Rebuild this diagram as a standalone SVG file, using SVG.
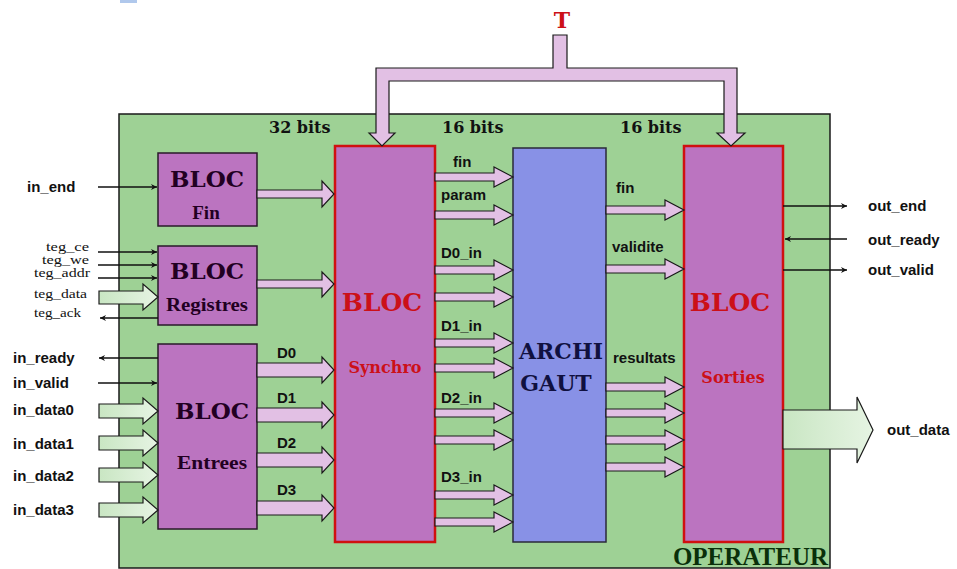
<svg xmlns="http://www.w3.org/2000/svg" width="957" height="569" viewBox="0 0 957 569">
<defs>
<style>
.bg{fill:#ffffff}
.op{fill:#9ed195;stroke:#1a1a1a;stroke-width:1.5}
.blk{fill:#bb74c0;stroke:#2a1a2a;stroke-width:1.5}
.rblk{fill:#bb74c0;stroke:#d01010;stroke-width:2.5}
.archi{fill:#8891e6;stroke:#2a2a3a;stroke-width:1.5}
.pa{fill:#e2c0e4;stroke:#1a1a1a;stroke-width:1.2;stroke-linejoin:miter}
.ga{fill:url(#lg);stroke:#1a1a1a;stroke-width:1.2}
.ln{stroke:#111;stroke-width:1.3;fill:none}
.ser{font-family:"DejaVu Serif","Liberation Serif",serif;font-weight:bold}
.ser2{font-family:"Liberation Serif","DejaVu Serif",serif;font-weight:bold}
.bt{fill:#220022;font-size:23px}
.bs{fill:#220022;font-size:19px}
.red{fill:#cc1018}
.san{font-family:"Liberation Sans",Arial,sans-serif;font-weight:bold;fill:#111;font-size:15px}
.teg{font-family:"Liberation Serif",serif;fill:#111;font-size:11.5px}
</style>
<linearGradient id="lg" x1="0" y1="0" x2="1" y2="0">
<stop offset="0" stop-color="#c9e6c3"/>
<stop offset="1" stop-color="#e6f4e3"/>
</linearGradient>
<marker id="ah" viewBox="0 0 10 10" refX="10" refY="5" markerWidth="9" markerHeight="6" markerUnits="userSpaceOnUse" orient="auto">
<path d="M0,0 L10,5 L0,10 L3,5 z" fill="#111"/>
</marker>
</defs>
<rect class="bg" x="0" y="0" width="957" height="569"/>
<rect x="120" y="0" width="17" height="3" fill="#b0c8ec"/>

<g id="operateur">
<rect class="op" x="119" y="114" width="711" height="454"/>
<text class="ser2" x="828" y="565" text-anchor="end" font-size="25" fill="#0a300a">OPERATEUR</text>
</g>

<g id="bus-labels" class="ser" font-size="16" fill="#111">
<text x="269" y="133">32 bits</text>
<text x="442" y="133">16 bits</text>
<text x="620" y="133">16 bits</text>
</g>

<g id="T">
<text class="ser red" x="562" y="28" font-size="22" text-anchor="middle">T</text>
</g>

<g id="bloc-fin">
<rect class="blk" x="158" y="153" width="99" height="73"/>
<text class="ser bt" x="207" y="187" text-anchor="middle">BLOC</text>
<text class="ser2 bs" x="206" y="219" text-anchor="middle">Fin</text>
</g>

<g id="bloc-registres">
<rect class="blk" x="158" y="246" width="99" height="79"/>
<text class="ser bt" x="207" y="279" text-anchor="middle">BLOC</text>
<text class="ser2 bs" x="207" y="311" text-anchor="middle" textLength="82" lengthAdjust="spacingAndGlyphs">Registres</text>
</g>

<g id="bloc-entrees">
<rect class="blk" x="158" y="344" width="99" height="185"/>
<text class="ser bt" x="212" y="419" text-anchor="middle">BLOC</text>
<text class="ser2 bs" x="212" y="469" text-anchor="middle" textLength="70" lengthAdjust="spacingAndGlyphs">Entrees</text>
</g>

<g id="bloc-synchro">
<rect class="rblk" x="335" y="146" width="100" height="396"/>
<text class="ser red" x="382" y="311" font-size="25" text-anchor="middle">BLOC</text>
<text class="ser red" x="385" y="373" font-size="16" text-anchor="middle">Synchro</text>
</g>

<g id="archi-gaut">
<rect class="archi" x="513" y="148" width="93" height="394"/>
<text class="ser" x="561" y="359" font-size="22" fill="#101040" text-anchor="middle">ARCHI</text>
<text class="ser" x="556" y="391" font-size="22" fill="#101040" text-anchor="middle">GAUT</text>
</g>

<g id="bloc-sorties">
<rect class="rblk" x="684" y="146" width="99" height="396"/>
<text class="ser red" x="730" y="311" font-size="25" text-anchor="middle">BLOC</text>
<text class="ser red" x="733" y="383" font-size="16" text-anchor="middle">Sorties</text>
</g>

<g id="connectors">
<polygon class="pa" points="553,35 567,35 567,68 737,68 737,133 745,133 731,146 717,133 724,133 724,81 389,81 389,133 395,133 382,146 369,133 376,133 376,68 553,68"/>

<line class="ln" x1="98" y1="187" x2="157" y2="187" marker-end="url(#ah)"/>
<line class="ln" x1="98" y1="252" x2="157" y2="252" marker-end="url(#ah)"/>
<line class="ln" x1="98" y1="265" x2="157" y2="265" marker-end="url(#ah)"/>
<line class="ln" x1="98" y1="278" x2="157" y2="278" marker-end="url(#ah)"/>
<line class="ln" x1="158" y1="318" x2="100" y2="318" marker-end="url(#ah)"/>
<line class="ln" x1="158" y1="358" x2="99" y2="358" marker-end="url(#ah)"/>
<line class="ln" x1="98" y1="383" x2="157" y2="383" marker-end="url(#ah)"/>

<polygon class="ga" points="99,291 143,291 143,284 158,297 143,310 143,304 99,304"/>
<polygon class="ga" points="99,404 143,404 143,398 158,411 143,424 143,418 99,418"/>
<polygon class="ga" points="99,436 143,436 143,430 158,443 143,456 143,450 99,450"/>
<polygon class="ga" points="99,468 143,468 143,462 158,475 143,488 143,482 99,482"/>
<polygon class="ga" points="99,503 143,503 143,497 158,510 143,523 143,517 99,517"/>

<polygon class="pa" points="257,190 322,190 322,181 334,194 322,207 322,198 257,198"/>
<polygon class="pa" points="257,280 322,280 322,272 334,284 322,297 322,288 257,288"/>
<polygon class="pa" points="257,363 322,363 322,357 334,370 322,383 322,377 257,377"/>
<polygon class="pa" points="257,408 322,408 322,402 334,415 322,428 322,422 257,422"/>
<polygon class="pa" points="257,453 322,453 322,447 334,460 322,473 322,467 257,467"/>
<polygon class="pa" points="257,501 322,501 322,495 334,508 322,521 322,515 257,515"/>

<polygon class="pa" points="435,173 494,173 494,167 513,177 494,187 494,181 435,181"/>
<polygon class="pa" points="435,211 494,211 494,205 513,215 494,225 494,219 435,219"/>
<polygon class="pa" points="435,266 494,266 494,260 513,270 494,280 494,274 435,274"/>
<polygon class="pa" points="435,293 494,293 494,287 513,297 494,307 494,301 435,301"/>
<polygon class="pa" points="435,339 494,339 494,333 513,343 494,353 494,347 435,347"/>
<polygon class="pa" points="435,364 494,364 494,358 513,368 494,378 494,372 435,372"/>
<polygon class="pa" points="435,409 494,409 494,403 513,413 494,423 494,417 435,417"/>
<polygon class="pa" points="435,436 494,436 494,430 513,440 494,450 494,444 435,444"/>
<polygon class="pa" points="435,491 494,491 494,485 513,495 494,505 494,499 435,499"/>
<polygon class="pa" points="435,518 494,518 494,512 513,522 494,532 494,526 435,526"/>

<polygon class="pa" points="606,206 665,206 665,200 684,210 665,220 665,214 606,214"/>
<polygon class="pa" points="606,265 665,265 665,259 684,269 665,279 665,273 606,273"/>
<polygon class="pa" points="606,383 665,383 665,377 684,387 665,397 665,391 606,391"/>
<polygon class="pa" points="606,409 665,409 665,403 684,413 665,423 665,417 606,417"/>
<polygon class="pa" points="606,436 665,436 665,430 684,440 665,450 665,444 606,444"/>
<polygon class="pa" points="606,463 665,463 665,457 684,467 665,477 665,471 606,471"/>

<line class="ln" x1="783" y1="206" x2="847" y2="206" marker-end="url(#ah)"/>
<line class="ln" x1="847" y1="239" x2="785" y2="239" marker-end="url(#ah)"/>
<line class="ln" x1="783" y1="270" x2="847" y2="270" marker-end="url(#ah)"/>
<polygon class="ga" points="783,410 857,410 857,397 873,430 857,463 857,449 783,449"/>
</g>

<g id="labels">
<text class="san" x="27" y="192">in_end</text>
<text class="teg" x="89" y="251" text-anchor="end" textLength="43" lengthAdjust="spacingAndGlyphs">teg_ce</text>
<text class="teg" x="89" y="264" text-anchor="end" textLength="47" lengthAdjust="spacingAndGlyphs">teg_we</text>
<text class="teg" x="90" y="277" text-anchor="end" textLength="56" lengthAdjust="spacingAndGlyphs">teg_addr</text>
<text class="teg" x="34" y="298" textLength="53" lengthAdjust="spacingAndGlyphs">teg_data</text>
<text class="teg" x="34" y="317" textLength="47" lengthAdjust="spacingAndGlyphs">teg_ack</text>
<text class="san" x="13" y="363">in_ready</text>
<text class="san" x="13" y="388">in_valid</text>
<text class="san" x="13" y="415">in_data0</text>
<text class="san" x="13" y="449">in_data1</text>
<text class="san" x="13" y="481">in_data2</text>
<text class="san" x="13" y="515">in_data3</text>
<text class="san" x="277" y="358">D0</text>
<text class="san" x="277" y="403">D1</text>
<text class="san" x="277" y="448">D2</text>
<text class="san" x="277" y="495">D3</text>
<text class="san" x="453" y="167">fin</text>
<text class="san" x="441" y="200">param</text>
<text class="san" x="441" y="258">D0_in</text>
<text class="san" x="441" y="331">D1_in</text>
<text class="san" x="441" y="403">D2_in</text>
<text class="san" x="441" y="482">D3_in</text>
<text class="san" x="616" y="193">fin</text>
<text class="san" x="612" y="252">validite</text>
<text class="san" x="613" y="363">resultats</text>
<text class="san" x="868" y="211">out_end</text>
<text class="san" x="868" y="245">out_ready</text>
<text class="san" x="868" y="275">out_valid</text>
<text class="san" x="887" y="435">out_data</text>
</g>
</svg>
